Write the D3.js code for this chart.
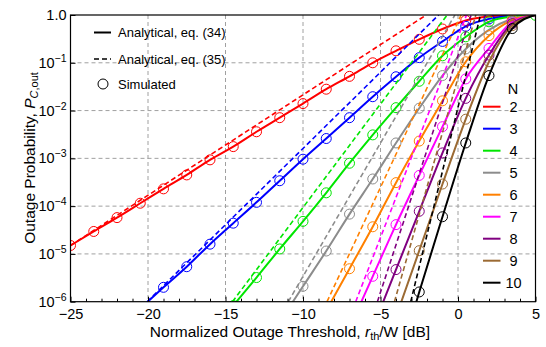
<!DOCTYPE html>
<html>
<head>
<meta charset="utf-8">
<script src="https://cdn.jsdelivr.net/npm/d3@7"></script>
<style>
  body { margin: 0; background: #fff; }
  svg text { font-family: "Liberation Sans", Arial, sans-serif; fill: #000; }
</style>
</head>
<body>
<div id="chart"></div>
<script>
// normalized outage threshold r_th/W in dB (one simulated point every 1.5 dB)
var thresholdDb = [-25, -23.5, -22, -20.5, -19, -17.5, -16, -14.5, -13, -11.5, -10, -8.5, -7, -5.5, -4, -2.5, -1, 0.5, 2, 3.5, 5];
var nValues = [2, 3, 4, 5, 6, 7, 8, 9, 10];

// outage probability, eq. (34) / simulated (null = off the plot)
var pN2  = [1.5e-5, 2.95e-5, 5.75e-5, 1.15e-4, 2.3e-4, 4.5e-4, 9.3e-4, 1.76e-3, 3.6e-3, 7.1e-3, 1.4e-2, 2.8e-2, 5.2e-2, 0.10, 0.178, 0.31, 0.51, 0.77, 0.93, 0.99, 1];
var pN3  = [null, null, null, 7.2e-7, 2.0e-6, 5.4e-6, 1.6e-5, 4.4e-5, 1.2e-4, 3.4e-4, 9.6e-4, 2.6e-3, 7.1e-3, 1.95e-2, 5.1e-2, 0.128, 0.28, 0.58, 0.83, 0.965, 1];
var pN4  = [null, null, null, null, null, null, null, 8.3e-7, 3.2e-6, 1.27e-5, 4.8e-5, 1.9e-4, 7.9e-4, 3.1e-3, 1.15e-2, 4.1e-2, 0.14, 0.35, 0.72, 0.93, 0.985];
var pN5  = [null, null, null, null, null, null, null, null, null, 3.8e-7, 2.1e-6, 1.15e-5, 6.8e-5, 3.7e-4, 2.1e-3, 1.12e-2, 5.4e-2, 0.195, 0.49, 0.83, 1];
var pN6  = [null, null, null, null, null, null, null, null, null, null, null, 6.5e-7, 4.9e-6, 3.7e-5, 3.1e-4, 2.3e-3, 1.6e-2, 0.105, 0.37, 0.78, 1];
var pN7  = [null, null, null, null, null, null, null, null, null, null, null, null, 2.8e-7, 3.4e-6, 4.1e-5, 4.4e-4, 4.6e-3, 4.6e-2, 0.2, 0.72, 1];
var pN8  = [null, null, null, null, null, null, null, null, null, null, null, null, null, 2.8e-7, 4.7e-6, 7.8e-5, 1.3e-3, 1.8e-2, 0.145, 0.66, 1];
var pN9  = [null, null, null, null, null, null, null, null, null, null, null, null, null, null, 4.8e-7, 1.17e-5, 2.9e-4, 6.6e-3, 0.105, 0.6, 1];
var pN10 = [null, null, null, null, null, null, null, null, null, null, null, null, null, null, 3.5e-8, 1.6e-6, 6.0e-5, 2.1e-3, 5.4e-2, 0.52, 1];

// asymptotic approximation, eq. (35): straight lines, start and end
var asymStartDb = [-25, -20.05, -14.55, -10.95, -8.45, -6.6, -5.2, -4.1, -3.05];
var asymStartP  = [1.5e-5, 1e-6, 1e-6, 1e-6, 1e-6, 1e-6, 1e-6, 1e-6, 1e-6];
var asymEndDb   = [-2.05, -1.25, -0.7, -0.2, 0.2, 0.55, 0.85, 1.15, 1.45];
var asymEndP    = [1, 1, 1, 1, 1, 1, 1, 1, 1];

var xTicks = [-25, -20, -15, -10, -5, 0, 5];
var yTicks = [1e-6, 1e-5, 1e-4, 1e-3, 1e-2, 1e-1, 1];

var colors = ['#ff0000', '#0000ff', '#00e600', '#8c8c8c', '#ff8000', '#ff00ff', '#800080', '#9b6a33', '#000000'];
var series = [pN2, pN3, pN4, pN5, pN6, pN7, pN8, pN9, pN10];

var width = 546, height = 347;
var pLeft = 70.5, pRight = 535.5, pTop = 15, pBottom = 301.7;

var svg = d3.select('#chart').append('svg').attr('width', width).attr('height', height);

var x = d3.scaleLinear().domain([-25, 5]).range([pLeft, pRight]);
var y = d3.scaleLog().domain([1e-6, 1]).range([pBottom, pTop]);

svg.append('defs').append('clipPath').attr('id', 'plot')
  .append('rect').attr('x', pLeft).attr('y', pTop).attr('width', pRight - pLeft).attr('height', pBottom - pTop);

// grid
var grid = svg.append('g').attr('stroke', '#a0a0a0').attr('stroke-width', 1).attr('stroke-dasharray', '4,3');
grid.selectAll('.gx').data(xTicks.slice(1, -1)).enter().append('line')
  .attr('x1', function(d) { return x(d); }).attr('x2', function(d) { return x(d); })
  .attr('y1', pTop).attr('y2', pBottom);
grid.selectAll('.gy').data(yTicks.slice(1, -1)).enter().append('line')
  .attr('y1', function(d) { return y(d); }).attr('y2', function(d) { return y(d); })
  .attr('x1', pLeft).attr('x2', pRight);

var plot = svg.append('g').attr('clip-path', 'url(#plot)');

var line = d3.line()
  .defined(function(d) { return d[1] != null; })
  .x(function(d) { return x(d[0]); })
  .y(function(d) { return y(d[1]); })
  .curve(d3.curveMonotoneX);

series.forEach(function(vals, i) {
  var pts = thresholdDb.map(function(t, j) { return [t, vals[j]]; });
  // eq. (35)
  plot.append('path')
    .attr('d', line([[asymStartDb[i], asymStartP[i]], [asymEndDb[i], asymEndP[i]]]))
    .attr('fill', 'none').attr('stroke', colors[i]).attr('stroke-width', 1.6)
    .attr('stroke-dasharray', '5,3');
  // eq. (34)
  plot.append('path')
    .attr('d', line(pts))
    .attr('fill', 'none').attr('stroke', colors[i]).attr('stroke-width', 2);
  // simulated
  plot.selectAll(null)
    .data(pts.filter(function(d) { return d[1] != null && d[1] < 1; }))
    .enter().append('circle')
    .attr('cx', function(d) { return x(d[0]); })
    .attr('cy', function(d) { return y(d[1]); })
    .attr('r', 5)
    .attr('fill', 'none').attr('stroke', colors[i]).attr('stroke-width', 1);
});

// frame
svg.append('rect').attr('x', pLeft).attr('y', pTop).attr('width', pRight - pLeft).attr('height', pBottom - pTop)
  .attr('fill', 'none').attr('stroke', '#000').attr('stroke-width', 1.2);

// x axis
var xAxis = svg.append('g').attr('transform', 'translate(0,' + pBottom + ')')
  .call(d3.axisBottom(x).tickValues(xTicks).tickSizeInner(-5).tickSizeOuter(0).tickPadding(6));
xAxis.select('.domain').remove();
xAxis.selectAll('text').attr('font-size', '14.5px').attr('dy', '0.75em').style('font-family', '"Liberation Sans", Arial, sans-serif');
var xMinor = svg.append('g').attr('transform', 'translate(0,' + pBottom + ')')
  .call(d3.axisBottom(x).tickValues(d3.range(-24, 5).filter(function(d) { return d % 5 != 0; }))
    .tickSizeInner(-3).tickSizeOuter(0).tickFormat(''));
xMinor.select('.domain').remove();

// y axis
var yAxis = svg.append('g').attr('transform', 'translate(' + pLeft + ',0)')
  .call(d3.axisLeft(y).tickValues(yTicks).tickSizeInner(-5).tickSizeOuter(0).tickFormat(''));
yAxis.select('.domain').remove();
yTicks.forEach(function(v) {
  var e = Math.round(Math.log10(v));
  var t = svg.append('text').attr('x', pLeft - 4).attr('y', y(v) + 5)
    .attr('text-anchor', 'end').attr('font-size', '14.5px');
  if (e === 0) {
    t.text('1.0');
  } else {
    t.append('tspan').text('10');
    t.append('tspan').attr('dy', -6).attr('font-size', '10.5px').text('\u2212' + (-e));
  }
});

// axis titles
var xt = svg.append('text').attr('x', 290).attr('y', 337).attr('text-anchor', 'middle').attr('font-size', '15.5px');
xt.append('tspan').text('Normalized Outage Threshold, ');
xt.append('tspan').attr('font-style', 'italic').text('r');
xt.append('tspan').attr('dy', 3).attr('font-size', '11px').text('th');
xt.append('tspan').attr('dy', -3).text('/W [dB]');

var yt = svg.append('text').attr('transform', 'translate(35,158) rotate(-90)')
  .attr('text-anchor', 'middle').attr('font-size', '15.5px');
yt.append('tspan').text('Outage Probability, ');
yt.append('tspan').attr('font-style', 'italic').text('P');
yt.append('tspan').attr('dy', 3).attr('font-size', '11px').attr('font-style', 'italic').text('C');
yt.append('tspan').attr('font-size', '11px').text(',out');

// legend: line styles
var lg = svg.append('g');
lg.append('line').attr('x1', 94).attr('x2', 111).attr('y1', 32.5).attr('y2', 32.5).attr('stroke', '#000').attr('stroke-width', 2);
lg.append('line').attr('x1', 94).attr('x2', 111).attr('y1', 59).attr('y2', 59).attr('stroke', '#000').attr('stroke-width', 1.6).attr('stroke-dasharray', '5,3');
lg.append('circle').attr('cx', 103).attr('cy', 84).attr('r', 5).attr('fill', 'none').attr('stroke', '#000');
lg.append('text').attr('x', 118).attr('y', 37).attr('font-size', '13px').text('Analytical, eq. (34)');
lg.append('text').attr('x', 118).attr('y', 64).attr('font-size', '13px').text('Analytical, eq. (35)');
lg.append('text').attr('x', 118).attr('y', 89).attr('font-size', '13px').text('Simulated');

// legend: N
var ln = svg.append('g');
ln.append('text').attr('x', 513).attr('y', 94).attr('text-anchor', 'middle').attr('font-size', '14.5px').text('N');
ln.selectAll('.ll').data(nValues).enter().append('line')
  .attr('x1', 483).attr('x2', 500.5)
  .attr('y1', function(d, i) { return 106.7 + i * 22; }).attr('y2', function(d, i) { return 106.7 + i * 22; })
  .attr('stroke', function(d, i) { return colors[i]; }).attr('stroke-width', 2);
ln.selectAll('.lt').data(nValues).enter().append('text')
  .attr('x', 513.5).attr('y', function(d, i) { return 106.7 + i * 22 + 5; })
  .attr('text-anchor', 'middle').attr('font-size', '14.5px')
  .text(function(d) { return d; });
</script>
</body>
</html>
